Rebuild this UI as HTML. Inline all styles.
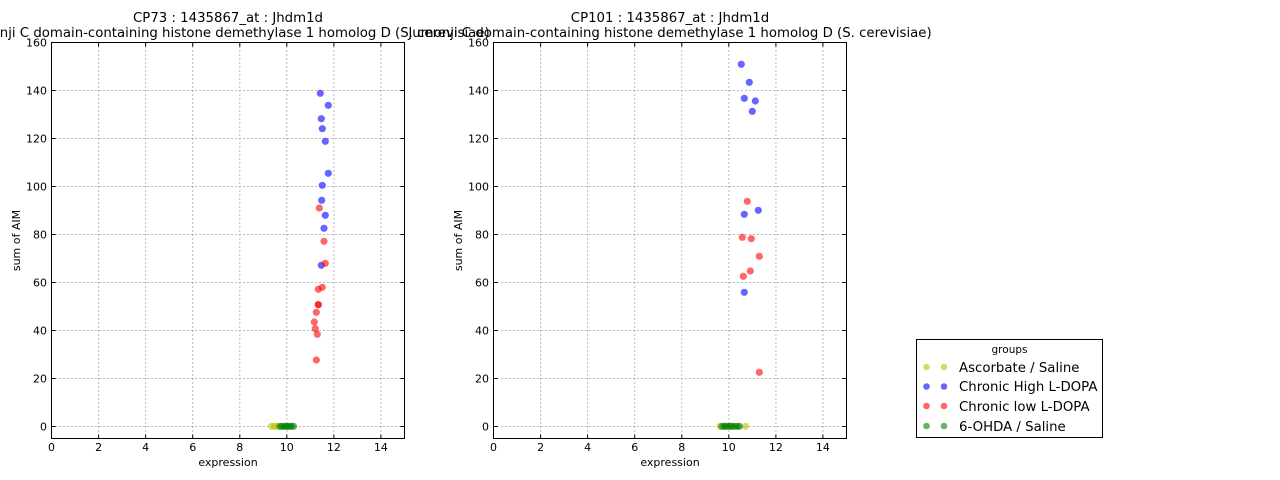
<!DOCTYPE html>
<html><head><meta charset="utf-8"><style>
html,body{margin:0;padding:0;background:#fff;}
svg{display:block;font-family:"DejaVu Sans","Liberation Sans",sans-serif;}
</style></head><body>
<svg width="1280" height="480" viewBox="0 0 1280 480" xmlns="http://www.w3.org/2000/svg">
<rect width="1280" height="480" fill="#fff"/>

<!-- LEFT AXES -->
<g id="left">
  <g stroke="#777" stroke-width="1" stroke-dasharray="1,3">
    <line x1="98.6" y1="42.5" x2="98.6" y2="438.5"/>
    <line x1="145.6" y1="42.5" x2="145.6" y2="438.5"/>
    <line x1="192.7" y1="42.5" x2="192.7" y2="438.5"/>
    <line x1="239.8" y1="42.5" x2="239.8" y2="438.5"/>
    <line x1="286.8" y1="42.5" x2="286.8" y2="438.5"/>
    <line x1="333.9" y1="42.5" x2="333.9" y2="438.5"/>
    <line x1="380.9" y1="42.5" x2="380.9" y2="438.5"/>
    <line x1="51.5" y1="426.5" x2="404.5" y2="426.5"/>
    <line x1="51.5" y1="378.5" x2="404.5" y2="378.5"/>
    <line x1="51.5" y1="330.5" x2="404.5" y2="330.5"/>
    <line x1="51.5" y1="282.5" x2="404.5" y2="282.5"/>
    <line x1="51.5" y1="234.5" x2="404.5" y2="234.5"/>
    <line x1="51.5" y1="186.5" x2="404.5" y2="186.5"/>
    <line x1="51.5" y1="138.5" x2="404.5" y2="138.5"/>
    <line x1="51.5" y1="90.5" x2="404.5" y2="90.5"/>
  </g>
  <g stroke="#000" stroke-width="1">
    <path d="M51.5 426.5h4M51.5 378.5h4M51.5 330.5h4M51.5 282.5h4M51.5 234.5h4M51.5 186.5h4M51.5 138.5h4M51.5 90.5h4"/>
    <path d="M404.5 426.5h-4M404.5 378.5h-4M404.5 330.5h-4M404.5 282.5h-4M404.5 234.5h-4M404.5 186.5h-4M404.5 138.5h-4M404.5 90.5h-4"/>
    <path d="M98.6 438.5v-4M145.6 438.5v-4M192.7 438.5v-4M239.8 438.5v-4M286.8 438.5v-4M333.9 438.5v-4M380.9 438.5v-4"/>
    <path d="M98.6 42.5v4M145.6 42.5v4M192.7 42.5v4M239.8 42.5v4M286.8 42.5v4M333.9 42.5v4M380.9 42.5v4"/>
  </g>
  <!-- data -->
  <g fill="#bfbf00" fill-opacity="0.6">
    <circle cx="271.5" cy="426.3" r="3.6"/><circle cx="274.5" cy="426.3" r="3.6"/><circle cx="277" cy="426.3" r="3.6"/>
  </g>
  <g fill="#008000" fill-opacity="0.6">
    <circle cx="280" cy="426.3" r="3.6"/><circle cx="282" cy="426.3" r="3.6"/><circle cx="284" cy="426.3" r="3.6"/>
    <circle cx="286" cy="426.3" r="3.6"/><circle cx="287.5" cy="426.3" r="3.6"/><circle cx="289.5" cy="426.3" r="3.6"/>
    <circle cx="291.5" cy="426.3" r="3.6"/><circle cx="293.5" cy="426.3" r="3.6"/>
  </g>
  <g fill="#0000ff" fill-opacity="0.6">
    <circle cx="320.3" cy="93.3" r="3.6"/><circle cx="328.3" cy="105.3" r="3.6"/><circle cx="321.3" cy="118.7" r="3.6"/>
    <circle cx="322.3" cy="128.7" r="3.6"/><circle cx="325.3" cy="141.3" r="3.6"/><circle cx="328.3" cy="173.3" r="3.6"/>
    <circle cx="322.3" cy="185.3" r="3.6"/><circle cx="321.7" cy="200.3" r="3.6"/><circle cx="325.3" cy="215.3" r="3.6"/>
    <circle cx="324" cy="228.3" r="3.6"/><circle cx="321.3" cy="265.3" r="3.6"/>
  </g>
  <g fill="#ff0000" fill-opacity="0.6">
    <circle cx="319.3" cy="208" r="3.6"/><circle cx="324" cy="241.3" r="3.6"/><circle cx="325.3" cy="263.3" r="3.6"/>
    <circle cx="322.3" cy="287.3" r="3.6"/><circle cx="318.3" cy="289.3" r="3.6"/><circle cx="318.3" cy="304.7" r="3.6"/>
    <circle cx="318.3" cy="304.7" r="3.6"/><circle cx="316.3" cy="312.3" r="3.6"/><circle cx="314.3" cy="322" r="3.6"/>
    <circle cx="315.3" cy="328.7" r="3.6"/><circle cx="317.3" cy="334.3" r="3.6"/><circle cx="316.3" cy="360" r="3.6"/>
  </g>
  <rect x="51.5" y="42.5" width="353" height="396" fill="none" stroke="#000" stroke-width="1"/>
  <g font-size="11" fill="#000" text-anchor="middle">
    <text x="51.5" y="451">0</text><text x="98.6" y="451">2</text><text x="145.6" y="451">4</text>
    <text x="192.7" y="451">6</text><text x="239.8" y="451">8</text><text x="286.8" y="451">10</text>
    <text x="333.9" y="451">12</text><text x="380.9" y="451">14</text>
  </g>
  <g font-size="11" fill="#000" text-anchor="end">
    <text x="47" y="430.5">0</text><text x="47" y="382.5">20</text><text x="47" y="334.5">40</text>
    <text x="47" y="286.5">60</text><text x="47" y="238.5">80</text><text x="47" y="190.5">100</text>
    <text x="47" y="142.5">120</text><text x="47" y="94.5">140</text><text x="47" y="46.5">160</text>
  </g>
  <text x="228" y="466" font-size="11" text-anchor="middle">expression</text>
  <text transform="translate(20,240.5) rotate(-90)" font-size="11" text-anchor="middle">sum of AIM</text>
  <text x="228" y="22" font-size="13.3" text-anchor="middle">CP73 : 1435867_at : Jhdm1d</text>
  <text x="228" y="37" font-size="13.3" text-anchor="middle">Jumonji C domain-containing histone demethylase 1 homolog D (S. cerevisiae)</text>
</g>

<!-- RIGHT AXES -->
<g id="right">
  <g stroke="#777" stroke-width="1" stroke-dasharray="1,3">
    <line x1="540.6" y1="42.5" x2="540.6" y2="438.5"/>
    <line x1="587.6" y1="42.5" x2="587.6" y2="438.5"/>
    <line x1="634.7" y1="42.5" x2="634.7" y2="438.5"/>
    <line x1="681.8" y1="42.5" x2="681.8" y2="438.5"/>
    <line x1="728.8" y1="42.5" x2="728.8" y2="438.5"/>
    <line x1="775.9" y1="42.5" x2="775.9" y2="438.5"/>
    <line x1="822.9" y1="42.5" x2="822.9" y2="438.5"/>
    <line x1="493.5" y1="426.5" x2="846.5" y2="426.5"/>
    <line x1="493.5" y1="378.5" x2="846.5" y2="378.5"/>
    <line x1="493.5" y1="330.5" x2="846.5" y2="330.5"/>
    <line x1="493.5" y1="282.5" x2="846.5" y2="282.5"/>
    <line x1="493.5" y1="234.5" x2="846.5" y2="234.5"/>
    <line x1="493.5" y1="186.5" x2="846.5" y2="186.5"/>
    <line x1="493.5" y1="138.5" x2="846.5" y2="138.5"/>
    <line x1="493.5" y1="90.5" x2="846.5" y2="90.5"/>
  </g>
  <g stroke="#000" stroke-width="1">
    <path d="M493.5 426.5h4M493.5 378.5h4M493.5 330.5h4M493.5 282.5h4M493.5 234.5h4M493.5 186.5h4M493.5 138.5h4M493.5 90.5h4"/>
    <path d="M846.5 426.5h-4M846.5 378.5h-4M846.5 330.5h-4M846.5 282.5h-4M846.5 234.5h-4M846.5 186.5h-4M846.5 138.5h-4M846.5 90.5h-4"/>
    <path d="M540.6 438.5v-4M587.6 438.5v-4M634.7 438.5v-4M681.8 438.5v-4M728.8 438.5v-4M775.9 438.5v-4M822.9 438.5v-4"/>
    <path d="M540.6 42.5v4M587.6 42.5v4M634.7 42.5v4M681.8 42.5v4M728.8 42.5v4M775.9 42.5v4M822.9 42.5v4"/>
  </g>
  <g fill="#bfbf00" fill-opacity="0.6">
    <circle cx="720" cy="426.3" r="3.6"/><circle cx="725" cy="426.3" r="3.6"/><circle cx="733" cy="426.3" r="3.6"/>
    <circle cx="745.5" cy="426.3" r="3.6"/>
  </g>
  <g fill="#008000" fill-opacity="0.6">
    <circle cx="722" cy="426.3" r="3.6"/><circle cx="724.5" cy="426.3" r="3.6"/><circle cx="727" cy="426.3" r="3.6"/>
    <circle cx="729.5" cy="426.3" r="3.6"/><circle cx="731.5" cy="426.3" r="3.6"/><circle cx="735" cy="426.3" r="3.6"/>
    <circle cx="737.5" cy="426.3" r="3.6"/><circle cx="739.5" cy="426.3" r="3.6"/>
  </g>
  <g fill="#0000ff" fill-opacity="0.6">
    <circle cx="741.3" cy="64.3" r="3.6"/><circle cx="749.3" cy="82.3" r="3.6"/><circle cx="744.3" cy="98.3" r="3.6"/>
    <circle cx="755.3" cy="101" r="3.6"/><circle cx="752.3" cy="111.3" r="3.6"/><circle cx="758.3" cy="210.3" r="3.6"/>
    <circle cx="744.3" cy="214.3" r="3.6"/><circle cx="744.3" cy="292.3" r="3.6"/>
  </g>
  <g fill="#ff0000" fill-opacity="0.6">
    <circle cx="747.3" cy="201.3" r="3.6"/><circle cx="742.3" cy="237.3" r="3.6"/><circle cx="751.3" cy="238.7" r="3.6"/>
    <circle cx="759.3" cy="256.3" r="3.6"/><circle cx="750.3" cy="271" r="3.6"/><circle cx="743.3" cy="276.3" r="3.6"/>
    <circle cx="759.3" cy="372.3" r="3.6"/>
  </g>
  <rect x="493.5" y="42.5" width="353" height="396" fill="none" stroke="#000" stroke-width="1"/>
  <g font-size="11" fill="#000" text-anchor="middle">
    <text x="493.5" y="451">0</text><text x="540.6" y="451">2</text><text x="587.6" y="451">4</text>
    <text x="634.7" y="451">6</text><text x="681.8" y="451">8</text><text x="728.8" y="451">10</text>
    <text x="775.9" y="451">12</text><text x="822.9" y="451">14</text>
  </g>
  <g font-size="11" fill="#000" text-anchor="end">
    <text x="489" y="430.5">0</text><text x="489" y="382.5">20</text><text x="489" y="334.5">40</text>
    <text x="489" y="286.5">60</text><text x="489" y="238.5">80</text><text x="489" y="190.5">100</text>
    <text x="489" y="142.5">120</text><text x="489" y="94.5">140</text><text x="489" y="46.5">160</text>
  </g>
  <text x="670" y="466" font-size="11" text-anchor="middle">expression</text>
  <text transform="translate(462,240.5) rotate(-90)" font-size="11" text-anchor="middle">sum of AIM</text>
  <text x="670" y="22" font-size="13.3" text-anchor="middle">CP101 : 1435867_at : Jhdm1d</text>
  <text x="670" y="37" font-size="13.3" text-anchor="middle">Jumonji C domain-containing histone demethylase 1 homolog D (S. cerevisiae)</text>
</g>

<!-- LEGEND -->
<g>
  <rect x="916.5" y="339.5" width="186" height="98" fill="#fff" stroke="#000" stroke-width="1"/>
  <text x="1009.5" y="353" font-size="10.5" text-anchor="middle">groups</text>
  <g fill-opacity="0.6">
    <circle cx="926.5" cy="367" r="3.3" fill="#bfbf00"/><circle cx="944" cy="367" r="3.3" fill="#bfbf00"/>
    <circle cx="926.5" cy="386.5" r="3.3" fill="#0000ff"/><circle cx="944" cy="386.5" r="3.3" fill="#0000ff"/>
    <circle cx="926.5" cy="406" r="3.3" fill="#ff0000"/><circle cx="944" cy="406" r="3.3" fill="#ff0000"/>
    <circle cx="926.5" cy="426" r="3.3" fill="#008000"/><circle cx="944" cy="426" r="3.3" fill="#008000"/>
  </g>
  <g font-size="13.3" fill="#000">
    <text x="959" y="372">Ascorbate / Saline</text>
    <text x="959" y="391">Chronic High L-DOPA</text>
    <text x="959" y="411">Chronic low L-DOPA</text>
    <text x="959" y="431">6-OHDA / Saline</text>
  </g>
</g>
</svg>
</body></html>
